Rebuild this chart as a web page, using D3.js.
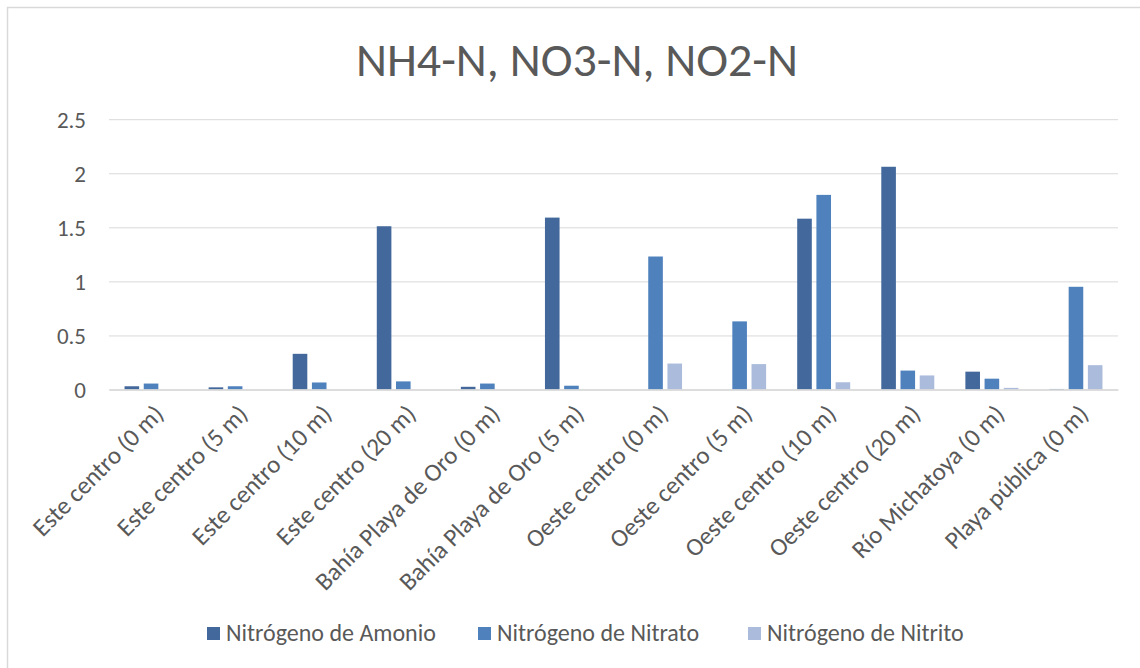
<!DOCTYPE html>
<html><head><meta charset="utf-8">
<script src="https://cdn.jsdelivr.net/npm/d3@7"></script>
<style>html,body{margin:0;padding:0;background:#fff;}svg{display:block;}</style>
</head><body>
<svg id="chart" width="1140" height="668"></svg>
<script>
const categories = ["Este centro (0 m)","Este centro (5 m)","Este centro (10 m)","Este centro (20 m)","Bahía Playa de Oro (0 m)","Bahía Playa de Oro (5 m)","Oeste centro (0 m)","Oeste centro (5 m)","Oeste centro (10 m)","Oeste centro (20 m)","Río Michatoya (0 m)","Playa pública (0 m)"];
const seriesNames = ["Nitrógeno de Amonio","Nitrógeno de Nitrato","Nitrógeno de Nitrito"];
const amonio  = [0.03, 0.02, 0.33, 1.51, 0.025, 1.59, 0, 0, 1.58, 2.06, 0.165, 0.005];
const nitrato = [0.055, 0.03, 0.065, 0.075, 0.055, 0.035, 1.23, 0.63, 1.80, 0.175, 0.10, 0.95];
const nitrito = [0, 0, 0, 0, 0, 0, 0.24, 0.235, 0.067, 0.13, 0.015, 0.225];
const yTicks = [0, 0.5, 1, 1.5, 2, 2.5];
const colors = ["#43689c", "#4f81bd", "#abbbdb"];
const title = "NH4-N, NO3-N, NO2-N";

const font = "Calibri, Carlito, 'Open Sans', sans-serif";
const svg = d3.select("#chart");
const W = 1140, H = 668;
const pLeft = 109, pRight = 1118, pTop = 119.2, pBottom = 389.5;

// frame
svg.append("rect").attr("x", 7.5).attr("y", 7.5).attr("width", W + 10).attr("height", H + 10)
  .attr("fill", "#fff").attr("stroke", "#d9d9d9").attr("stroke-width", 1.5);

const x = d3.scaleBand().domain(categories).range([pLeft, pRight]).paddingInner(0).paddingOuter(0);
const y = d3.scaleLinear().domain([0, 2.5]).range([pBottom, pTop]);
const series = [amonio, nitrato, nitrito];
const step = 19.2, bw = 14.6;
const xs = d3.scaleBand().domain(seriesNames).range([-step * 1.5, step * 1.5]).padding(0);

// gridlines
const yAxis = d3.axisLeft(y).tickValues(yTicks).tickSize(-(pRight - pLeft)).tickPadding(23)
  .tickFormat(d => d3.format("")(d));
const gy = svg.append("g").attr("transform", `translate(${pLeft},0)`).call(yAxis);
gy.select(".domain").remove();
gy.selectAll(".tick line").attr("stroke", "#d9d9d9").attr("stroke-width", 1);
gy.selectAll(".tick text").attr("fill", "#595959").style("font-family", font).style("font-size", "23px").attr("dy", "0.34em");

// bars
seriesNames.forEach((name, si) => {
  svg.append("g").selectAll("rect").data(categories).join("rect")
    .attr("x", d => x(d) + x.bandwidth() / 2 + xs(name) + (step - bw) / 2)
    .attr("width", bw)
    .attr("y", (d, i) => y(series[si][i]))
    .attr("height", (d, i) => y(0) - y(series[si][i]))
    .attr("fill", colors[si]);
});

// x axis baseline
const xAxis = d3.axisBottom(x).tickSize(0).tickPadding(0);
const gx = svg.append("g").attr("transform", `translate(0,${pBottom})`).call(xAxis);
gx.select(".domain").attr("stroke", "#d9d9d9").attr("stroke-width", 1.5);
gx.selectAll(".tick text")
  .attr("fill", "#595959").style("font-family", font).style("font-size", "25px")
  .attr("text-anchor", "end").attr("dy", 0).attr("y", 0)
  .attr("transform", "translate(14,26) rotate(-45)");

// title
svg.append("text").attr("x", 577).attr("y", 76).attr("text-anchor", "middle")
  .attr("fill", "#595959").style("font-family", font).style("font-size", "48px").text(title);

// legend
const legendX = [207, 478, 748];
const lg = svg.append("g");
seriesNames.forEach((name, i) => {
  lg.append("rect").attr("x", legendX[i]).attr("y", 627).attr("width", 13).attr("height", 13).attr("fill", colors[i]);
  lg.append("text").attr("x", legendX[i] + 19).attr("y", 641).attr("fill", "#595959")
    .style("font-family", font).style("font-size", "24px").text(name);
});
</script>
</body></html>
